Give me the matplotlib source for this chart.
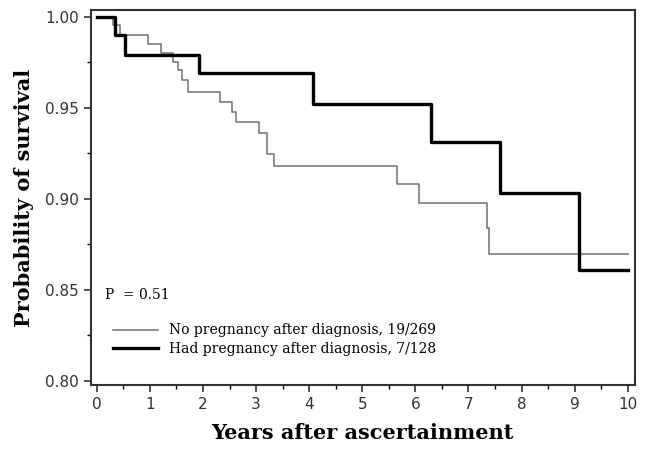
import matplotlib.pyplot as plt
from matplotlib.ticker import MultipleLocator

# Kaplan-Meier curves (time in years, survival probability)
t_nopreg = [0, 0.30, 0.44, 0.97, 1.21, 1.44, 1.53, 1.61, 1.71, 2.32, 2.54, 2.63,
            3.06, 3.20, 3.34, 5.66, 6.06, 7.34, 7.38, 10.0]
s_nopreg = [1.0, 0.9956, 0.990, 0.985, 0.980, 0.9755, 0.971, 0.9654, 0.959, 0.9535,
            0.948, 0.942, 0.936, 0.9248, 0.918, 0.908, 0.898, 0.884, 0.8695, 0.8695]

t_preg = [0, 0.35, 0.53, 1.93, 4.07, 6.29, 7.59, 9.08, 10.0]
s_preg = [1.0, 0.990, 0.979, 0.969, 0.952, 0.931, 0.903, 0.861, 0.861]

labels = ["No pregnancy after diagnosis, 19/269",
          "Had pregnancy after diagnosis, 7/128"]

fig = plt.figure(figsize=(6.45, 4.57), dpi=100)
ax = fig.add_axes([0.141, 0.158, 0.843, 0.820])

ax.step(t_nopreg, s_nopreg, where="post", color="#707070", lw=1.1, label=labels[0])
ax.step(t_preg, s_preg, where="post", color="black", lw=2.4, label=labels[1])

ax.set_xlim(-0.11, 10.13)
ax.set_ylim(0.7978, 1.0038)
ax.xaxis.set_major_locator(MultipleLocator(1))
ax.xaxis.set_minor_locator(MultipleLocator(0.5))
ax.yaxis.set_major_locator(MultipleLocator(0.05))
ax.yaxis.set_minor_locator(MultipleLocator(0.025))
ax.set_yticks([0.80, 0.85, 0.90, 0.95, 1.00])
ax.set_yticklabels(["0.80", "0.85", "0.90", "0.95", "1.00"])

ax.tick_params(which="major", direction="out", length=5, width=1.2, labelsize=11,
               colors="#333333")
ax.tick_params(which="minor", direction="out", length=3, width=1)
for s in ax.spines.values():
    s.set_linewidth(1.5)
    s.set_color("#333333")

ax.set_xlabel("Years after ascertainment", family="DejaVu Serif", fontsize=15,
              fontweight="bold", labelpad=8)
ax.set_ylabel("Probability of survival", family="DejaVu Serif", fontsize=15,
              fontweight="bold", labelpad=8)

ax.text(0.15, 0.845, "P  = 0.51", family="DejaVu Serif", fontsize=10)

ax.legend(loc="lower left", bbox_to_anchor=(0.031, 0.063), frameon=False,
          prop={"family": "DejaVu Serif", "size": 10}, handlelength=3.2,
          labelspacing=0.3, borderaxespad=0)

plt.savefig("out.png", dpi=100)
